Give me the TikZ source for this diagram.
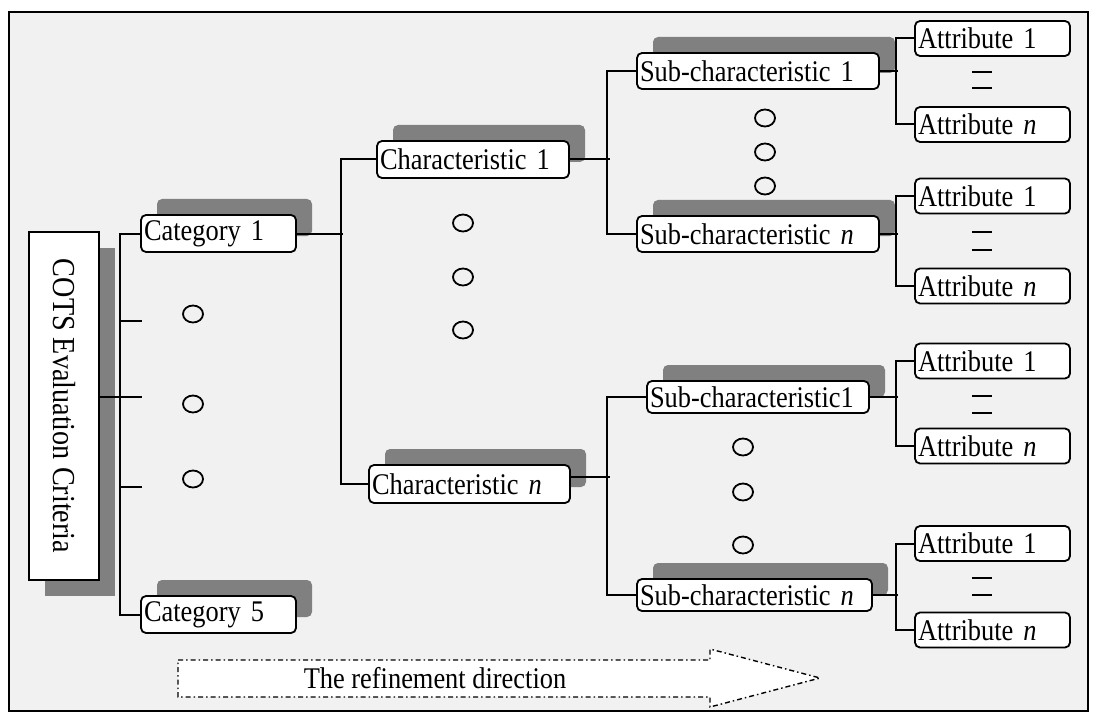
\documentclass[tikz,border=0pt]{standalone}
\usepackage{fontspec}
\setmainfont{Liberation Serif}[FakeStretch=0.88]
\usetikzlibrary{shadows,shapes.geometric}
\definecolor{pagebg}{HTML}{F1F1F1}
\definecolor{shadowgray}{HTML}{808080}
\begin{document}
\begin{tikzpicture}[x=1pt,y=-1pt,
  font=\fontsize{30}{34}\selectfont,
  tbox/.style={draw, fill=white, rounded corners=5pt, line width=1.8pt,
    inner xsep=3pt, inner ysep=0pt, align=left, minimum height=36pt,
    drop shadow={shadow xshift=16pt, shadow yshift=16pt, fill=shadowgray, opacity=1}},
  abox/.style={draw, fill=white, rounded corners=5pt, line width=1.8pt,
    inner xsep=3pt, inner ysep=0pt, align=left, minimum height=35pt, text width=149pt},
  link/.style={line width=2pt},
  dotmark/.style={draw, line width=1.8pt, ellipse, minimum width=20pt, minimum height=17pt, inner sep=0pt},
  bar/.style={line width=2pt}]
\useasboundingbox (0,0) rectangle (1097,722);

% frame and background
\draw[line width=2.2pt, fill=pagebg] (9,12) rectangle (1088,711);

% root box
\node[draw, fill=white, line width=1.8pt, minimum width=70pt, minimum height=348pt,
  inner sep=0pt,
  drop shadow={shadow xshift=16pt, shadow yshift=-16pt, fill=shadowgray, opacity=1}]
  (cots) at (64,406) {};
\node[rotate=-90, font=\fontsize{32}{36}\selectfont] (cotstext) at (cots.center) {COTS Evaluation Criteria};

% categories
\node[tbox, text width=149pt, minimum height=37pt] (cat1) at (218.5,233.5) {Category 1};
\node[tbox, text width=149pt, minimum height=37pt] (cat5) at (218.5,614.5) {Category 5};

% characteristics
\node[tbox, text width=186pt, minimum height=37pt] (ch1) at (473,159.5) {Characteristic 1};
\node[tbox, text width=195pt, minimum height=38pt] (chn) at (469.5,484) {Characteristic \textit{n}};

% sub-characteristics
\node[tbox, text width=236pt] (sc1a) at (758,71) {Sub-characteristic 1};
\node[tbox, text width=236pt] (scna) at (758,234) {Sub-characteristic \textit{n}};
\node[tbox, text width=216pt, minimum height=32pt] (sc1b) at (758,397) {Sub-characteristic1};
\node[tbox, text width=229pt, minimum height=32pt] (scnb) at (754.5,595) {Sub-characteristic \textit{n}};

% attributes
\node[abox] (a1a) at (992.5,38.5) {Attribute 1};
\node[abox] (ana) at (992.5,124.5) {Attribute \textit{n}};
\node[abox] (a1b) at (992.5,196) {Attribute 1};
\node[abox] (anb) at (992.5,286) {Attribute \textit{n}};
\node[abox] (a1c) at (992.5,361) {Attribute 1};
\node[abox] (anc) at (992.5,446) {Attribute \textit{n}};
\node[abox] (a1d) at (992.5,543.5) {Attribute 1};
\node[abox] (and) at (992.5,630) {Attribute \textit{n}};

% root to categories
\coordinate (t1) at (142,321);
\coordinate (t2) at (142,397);
\coordinate (t3) at (142,487);
\draw[link] (cat1.west) -- ++(-20,0) |- (cat5.west);
\draw[link] (cots.east |- t2) -- (t2);
\draw[link] (t1) -- ++(-21,0);
\draw[link] (t3) -- ++(-21,0);

% categories to characteristics
\draw[link] (cat1.east) -- ++(46,0);
\draw[link] (ch1.west) -- ++(-35,0) |- (chn.west);

% characteristics to sub-characteristics
\draw[link] (ch1.east) -- ++(40,0);
\draw[link] (sc1a.west) -- ++(-29,0) |- (scna.west);
\draw[link] ([yshift=7pt]chn.east) -- ++(39,0);
\draw[link] (sc1b.west) -- ++(-39,0) |- (scnb.west);

% sub-characteristics to attributes
\draw[link] (sc1a.east) -- ++(18,0);
\draw[link] (a1a.west) -- ++(-18,0) |- (ana.west);
\draw[link] (scna.east) -- ++(18,0);
\draw[link] (a1b.west) -- ++(-18,0) |- (anb.west);
\draw[link] (sc1b.east) -- ++(28,0);
\draw[link] (a1c.west) -- ++(-18,0) |- (anc.west);
\draw[link] (scnb.east) -- ++(25,0);
\draw[link] (a1d.west) -- ++(-18,0) |- (and.west);

% ellipsis marks
\node[dotmark] (d11) at (193,314) {};
\node[dotmark] (d12) at (193,404) {};
\node[dotmark] (d13) at (193,479) {};
\node[dotmark] (d21) at (463,223) {};
\node[dotmark] (d22) at (463,277) {};
\node[dotmark] (d23) at (463,330) {};
\node[dotmark] (d31) at (765,118) {};
\node[dotmark] (d32) at (765,152) {};
\node[dotmark] (d33) at (765,186) {};
\node[dotmark] (d41) at (743,447) {};
\node[dotmark] (d42) at (743,492) {};
\node[dotmark] (d43) at (743,545) {};

% double bars between attributes
\foreach \ya/\yb in {72/88, 232/250, 396/413, 578/595} {
  \draw[bar] (972,\ya) -- (992,\ya);
  \draw[bar] (972,\yb) -- (992,\yb);
}

% refinement arrow
\draw[line width=1.4pt, fill=white, dash pattern=on 5pt off 3pt on 1.5pt off 3pt]
  (178,660) -- (710,660) -- (710,649) -- (820,678) -- (710,707) -- (710,697) -- (178,697) -- cycle;
\node (refine) at (435,678) {The refinement direction};
\end{tikzpicture}
\end{document}
